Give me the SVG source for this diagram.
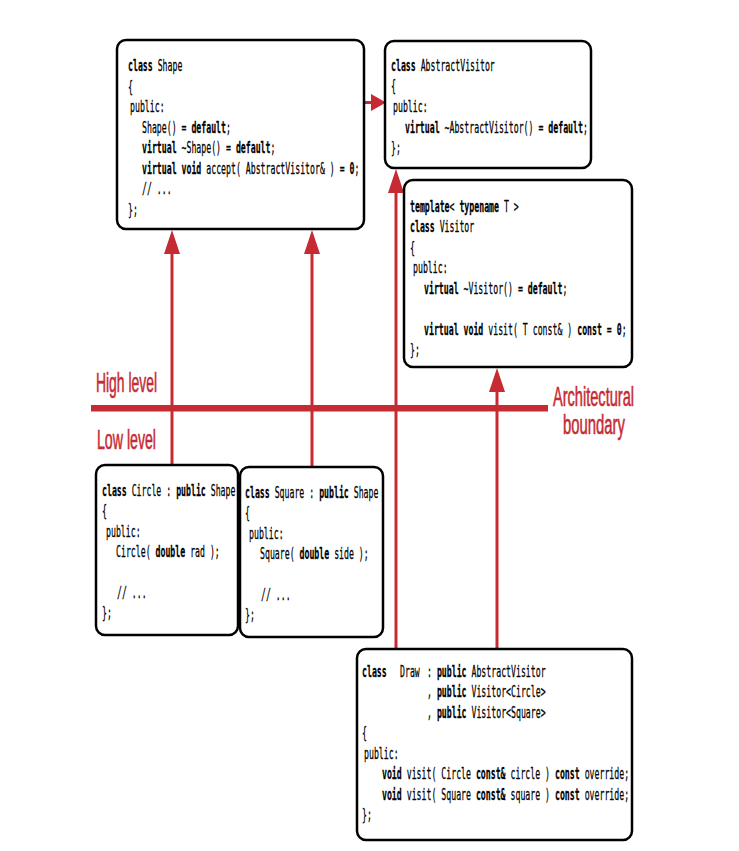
<svg xmlns="http://www.w3.org/2000/svg" width="739" height="851" viewBox="0 0 739 851">
  <defs>
    <style>
      .box { fill: #ffffff; stroke: #000000; stroke-width: 2.5; }
      .code text { font-family: "DejaVu Sans Mono", "Liberation Mono", monospace; font-size: 15px; fill: #000000;
                   stroke: #000000; stroke-width: 0.25;
                   transform: scaleX(0.548); transform-box: fill-box; transform-origin: left; }
      .k { font-weight: bold; }
      .wire { fill: none; stroke: #c62a33; stroke-width: 3; }
      .boundary { fill: none; stroke: #c62a33; stroke-width: 6.5; }
      .lbl { font-family: "Liberation Sans", "Noto Sans", sans-serif; font-size: 27px; fill: #c62a33;
             stroke: #c62a33; stroke-width: 0.6; }
    </style>
    <marker id="head" markerUnits="userSpaceOnUse" markerWidth="24" markerHeight="16" refX="0" refY="8" orient="auto">
      <path d="M0,0 L24,8 L0,16 Z" fill="#c62a33"/>
    </marker>
    <marker id="head-s" markerUnits="userSpaceOnUse" markerWidth="15" markerHeight="17" refX="0" refY="8.5" orient="auto">
      <path d="M0,0 L15,8.5 L0,17 Z" fill="#c62a33"/>
    </marker>
  </defs>

  <!-- inheritance / dependency arrows and the architectural boundary -->
  <g id="connectors">
    <line class="boundary" x1="91" y1="408.3" x2="548" y2="408.3"/>
    <line class="wire" x1="172" y1="465" x2="172" y2="254" marker-end="url(#head)"/>
    <line class="wire" x1="312" y1="467" x2="312" y2="254" marker-end="url(#head)"/>
    <line class="wire" x1="396" y1="649" x2="396" y2="193" marker-end="url(#head)"/>
    <line class="wire" x1="497" y1="649" x2="497" y2="392" marker-end="url(#head)"/>
    <line class="wire" x1="364" y1="102.5" x2="371" y2="102.5" marker-end="url(#head-s)"/>
  </g>

  <g id="labels">
    <text class="lbl" x="96" y="392" textLength="61" lengthAdjust="spacingAndGlyphs">High level</text>
    <text class="lbl" x="97" y="449" textLength="59" lengthAdjust="spacingAndGlyphs">Low level</text>
    <text class="lbl" x="553" y="406" textLength="81" lengthAdjust="spacingAndGlyphs">Architectural</text>
    <text class="lbl" x="563" y="434" textLength="62" lengthAdjust="spacingAndGlyphs">boundary</text>
  </g>

  <g id="shape" class="code">
    <rect class="box" x="117" y="40" width="247" height="189" rx="9"/>
    <text x="128" y="71.5"><tspan class="k">class</tspan> Shape</text>
    <text x="128" y="92">{</text>
    <text x="130" y="112.5">public:</text>
    <text x="142" y="133">Shape() = <tspan class="k">default</tspan>;</text>
    <text x="142" y="153.5"><tspan class="k">virtual</tspan> ~Shape() = <tspan class="k">default</tspan>;</text>
    <text x="142" y="174"><tspan class="k">virtual void</tspan> accept( AbstractVisitor&amp; ) = <tspan class="k">0</tspan>;</text>
    <text x="142" y="194.5">// ...</text>
    <text x="128" y="215">};</text>
  </g>

  <g id="abstract-visitor" class="code">
    <rect class="box" x="385" y="41" width="206" height="127" rx="9"/>
    <text x="391" y="71"><tspan class="k">class</tspan> AbstractVisitor</text>
    <text x="391" y="91">{</text>
    <text x="393" y="112">public:</text>
    <text x="405" y="133"><tspan class="k">virtual</tspan> ~AbstractVisitor() = <tspan class="k">default</tspan>;</text>
    <text x="391" y="153">};</text>
  </g>

  <g id="visitor" class="code">
    <rect class="box" x="404" y="180" width="228" height="187" rx="9"/>
    <text x="410" y="212"><tspan class="k">template</tspan>&lt; <tspan class="k">typename</tspan> T &gt;</text>
    <text x="410" y="232.5"><tspan class="k">class</tspan> Visitor</text>
    <text x="410" y="253">{</text>
    <text x="413" y="273.5">public:</text>
    <text x="424" y="294"><tspan class="k">virtual</tspan> ~Visitor() = <tspan class="k">default</tspan>;</text>
    <text x="424" y="335"><tspan class="k">virtual void</tspan> visit( T const&amp; ) <tspan class="k">const</tspan> = <tspan class="k">0</tspan>;</text>
    <text x="410" y="355.5">};</text>
  </g>

  <g id="circle" class="code">
    <rect class="box" x="96" y="465" width="142" height="170" rx="9"/>
    <text x="102" y="496"><tspan class="k">class</tspan> Circle : <tspan class="k">public</tspan> Shape</text>
    <text x="102" y="516.4">{</text>
    <text x="106" y="536.8">public:</text>
    <text x="116" y="557.2">Circle( <tspan class="k">double</tspan> rad );</text>
    <text x="117" y="598">// ...</text>
    <text x="102" y="618.4">};</text>
  </g>

  <g id="square" class="code">
    <rect class="box" x="240" y="467" width="143" height="170" rx="9"/>
    <text x="245" y="498"><tspan class="k">class</tspan> Square : <tspan class="k">public</tspan> Shape</text>
    <text x="245" y="518.4">{</text>
    <text x="249" y="538.8">public:</text>
    <text x="260" y="559.2">Square( <tspan class="k">double</tspan> side );</text>
    <text x="261" y="600">// ...</text>
    <text x="245" y="620.4">};</text>
  </g>

  <g id="draw" class="code">
    <rect class="box" x="357" y="649" width="275" height="191" rx="9"/>
    <text x="362" y="677"><tspan class="k">class</tspan></text>
    <text x="400" y="677">Draw</text>
    <text x="427" y="677">: <tspan class="k">public</tspan> AbstractVisitor</text>
    <text x="427" y="697.5">, <tspan class="k">public</tspan> Visitor&lt;Circle&gt;</text>
    <text x="427" y="718">, <tspan class="k">public</tspan> Visitor&lt;Square&gt;</text>
    <text x="362" y="738.5">{</text>
    <text x="364" y="759">public:</text>
    <text x="382" y="779.5"><tspan class="k">void</tspan> visit( Circle <tspan class="k">const&amp;</tspan> circle ) <tspan class="k">const</tspan> override;</text>
    <text x="382" y="800"><tspan class="k">void</tspan> visit( Square <tspan class="k">const&amp;</tspan> square ) <tspan class="k">const</tspan> override;</text>
    <text x="362" y="820.5">};</text>
  </g>
</svg>
